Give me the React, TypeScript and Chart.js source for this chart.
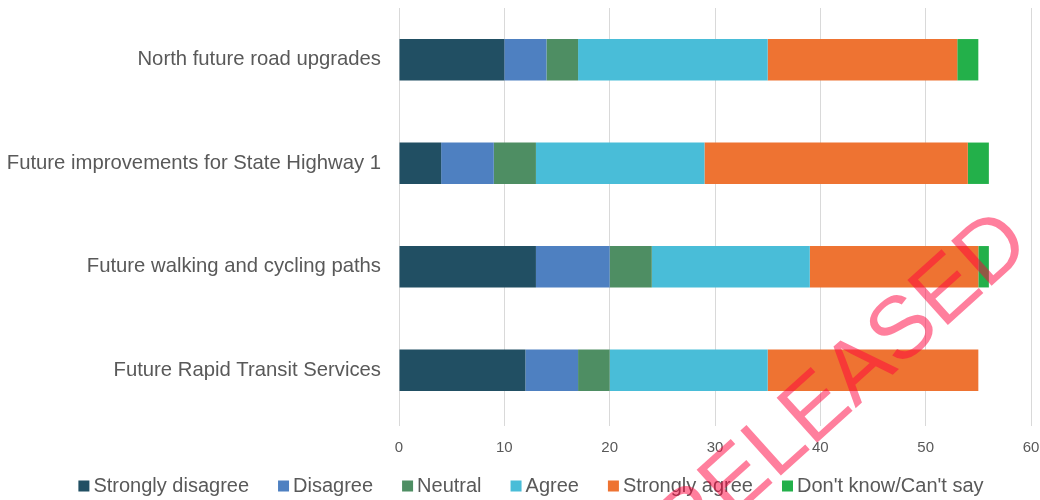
import React, { useEffect, useRef } from "react";
import { Chart, registerables } from "chart.js";

Chart.register(...registerables);

const categories = [
  "North future road upgrades",
  "Future improvements for State Highway 1",
  "Future walking and cycling paths",
  "Future Rapid Transit Services",
];
const seriesNames = [
  "Strongly disagree",
  "Disagree",
  "Neutral",
  "Agree",
  "Strongly agree",
  "Don't know/Can't say",
];
const stronglyDisagree = [10, 4, 13, 12];
const disagree = [4, 5, 7, 5];
const neutral = [3, 4, 4, 3];
const agree = [18, 16, 15, 15];
const stronglyAgree = [18, 25, 16, 20];
const dontKnow = [2, 2, 1, 0];
const xMin = 0;
const xMax = 60;
const xStep = 10;
const watermarkText = "RELEASED";

const seriesValues = [stronglyDisagree, disagree, neutral, agree, stronglyAgree, dontKnow];
const seriesColors = ["#214F63", "#4E80C1", "#4E8E63", "#49BDD8", "#EE7332", "#23B04A"];

const FONT = "'Liberation Sans', Arial, Helvetica, sans-serif";
const TEXT_COLOR = "#595959";

const legendPlugin = {
  id: "customLegend",
  afterDraw(chart: any) {
    const ctx = chart.ctx as CanvasRenderingContext2D;
    ctx.save();
    ctx.font = `20px ${FONT}`;
    const box = 11;
    const gap = 4;
    const itemGap = 29;
    const items = chart.data.datasets.map((ds: any) => ({
      label: ds.label as string,
      color: ds.backgroundColor as string,
      w: ctx.measureText(ds.label).width,
    }));
    const total =
      items.reduce((s: number, it: any) => s + box + gap + it.w, 0) + itemGap * (items.length - 1);
    let x = chart.width / 2 + 11 - total / 2;
    const y = 486;
    ctx.textBaseline = "middle";
    ctx.textAlign = "left";
    items.forEach((it: any) => {
      ctx.fillStyle = it.color;
      ctx.fillRect(x, y - box / 2, box, box);
      ctx.fillStyle = TEXT_COLOR;
      ctx.fillText(it.label, x + box + gap, y);
      x += box + gap + it.w + itemGap;
    });
    ctx.restore();
  },
};

const watermarkPlugin = {
  id: "watermark",
  afterDraw(chart: any) {
    const ctx = chart.ctx as CanvasRenderingContext2D;
    ctx.save();
    ctx.translate(859, 405);
    ctx.rotate((-42 * Math.PI) / 180);
    ctx.font = `88px ${FONT}`;
    ctx.fillStyle = "rgba(255,0,60,0.5)";
    ctx.textAlign = "center";
    ctx.textBaseline = "alphabetic";
    ctx.fillText(watermarkText, 0, 0);
    ctx.restore();
  },
};

export default function App() {
  const canvasRef = useRef<HTMLCanvasElement | null>(null);

  useEffect(() => {
    if (!canvasRef.current) return;
    const chart = new Chart(canvasRef.current, {
      type: "bar",
      data: {
        labels: categories,
        datasets: seriesNames.map((name, i) => ({
          label: name,
          data: seriesValues[i],
          backgroundColor: seriesColors[i],
          borderWidth: 0,
          barPercentage: 0.8,
          categoryPercentage: 0.5,
        })),
      },
      options: {
        indexAxis: "y",
        responsive: false,
        animation: false,
        devicePixelRatio: 1,
        layout: { padding: { top: 8, bottom: 40, left: 0, right: 9 } },
        plugins: {
          legend: { display: false },
          tooltip: { enabled: false },
        },
        scales: {
          x: {
            stacked: true,
            min: xMin,
            max: xMax,
            ticks: {
              stepSize: xStep,
              color: TEXT_COLOR,
              font: { family: FONT, size: 15 },
              padding: 13,
            },
            grid: {
              color: "#D9D9D9",
              lineWidth: 1,
              drawTicks: true,
              tickLength: 4,
            },
            border: { display: false },
            afterFit: (scale: any) => {
              scale.height = 38;
              scale.paddingLeft = 0;
              scale.paddingRight = 0;
            },
          },
          y: {
            stacked: true,
            ticks: {
              color: TEXT_COLOR,
              font: { family: FONT, size: 20.3 },
              padding: 18,
            },
            grid: { display: false, drawTicks: false },
            border: { display: false },
            afterFit: (scale: any) => {
              scale.width = 399;
              scale.paddingTop = 0;
              scale.paddingBottom = 0;
            },
          },
        },
      },
      plugins: [legendPlugin, watermarkPlugin],
    });
    return () => chart.destroy();
  }, []);

  return (
    <div style={{ position: "fixed", left: 0, top: 0, width: 1040, height: 500, background: "#fff" }}>
      <canvas ref={canvasRef} width={1040} height={500} style={{ display: "block" }} />
    </div>
  );
}
